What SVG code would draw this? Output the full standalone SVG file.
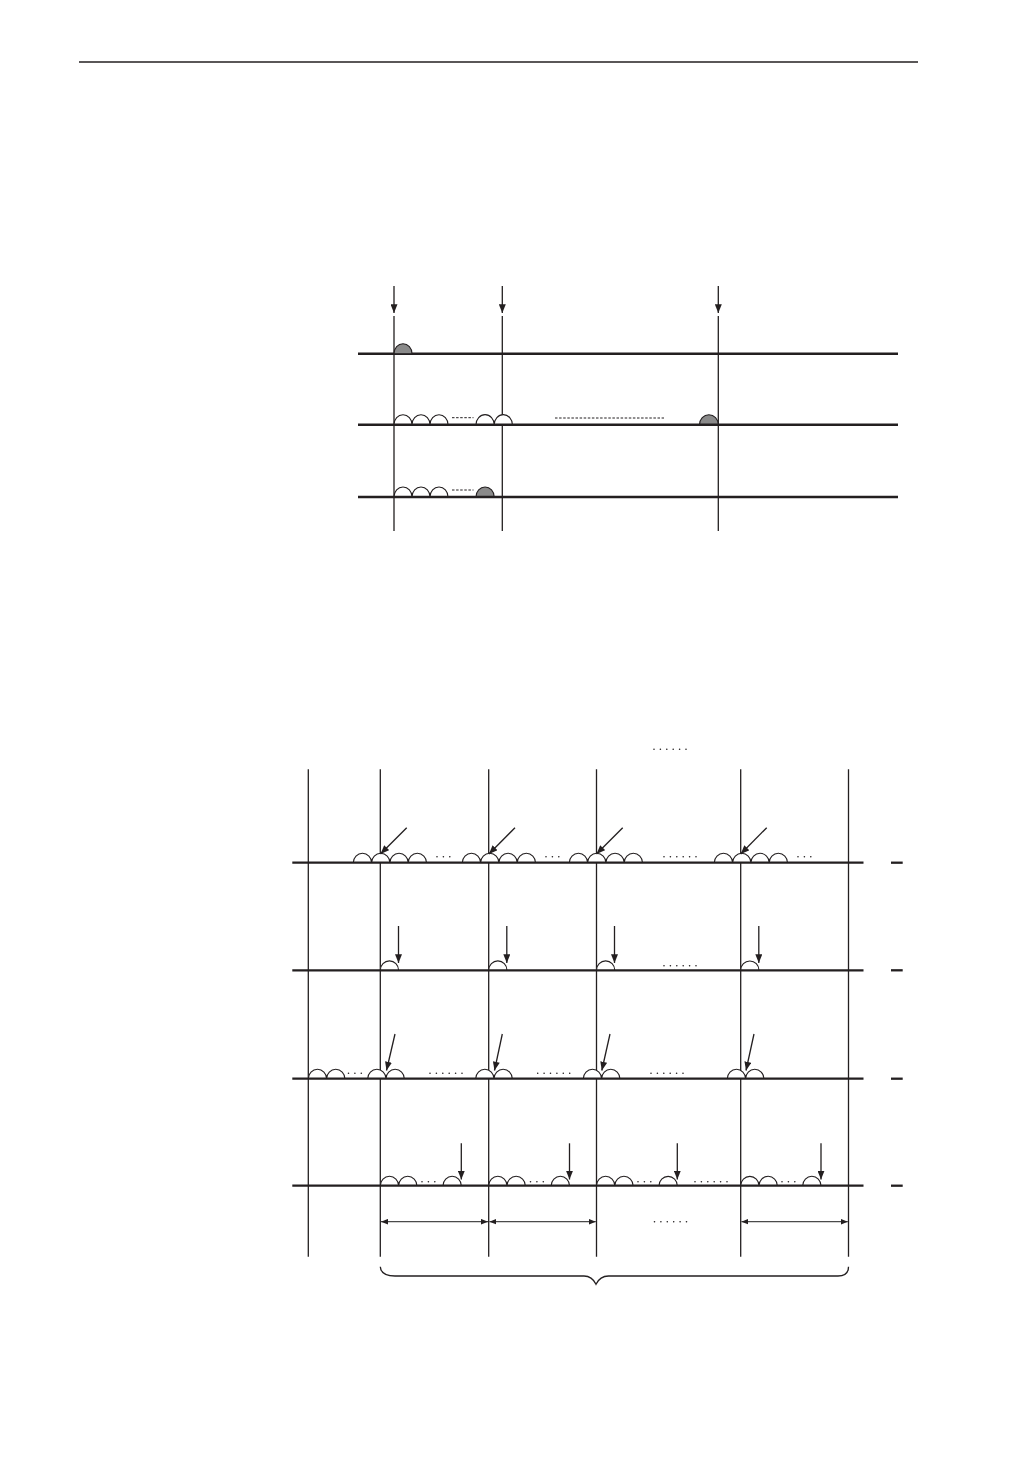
<svg xmlns="http://www.w3.org/2000/svg" width="1032" height="1457" viewBox="0 0 1032 1457">
<style>
.bg{fill:#fff}
.rule{stroke:#231f20;stroke-width:1.6;fill:none}
.vl{stroke:#231f20;stroke-width:1.3;fill:none}
.hl{stroke:#231f20;stroke-width:2.5;fill:none}
.hl2{stroke:#231f20;stroke-width:2.3;fill:none}
.arc{stroke:#231f20;stroke-width:1.1;fill:#fff}
.arcg{stroke:#231f20;stroke-width:1.1;fill:#8a8a8a}
.dash{stroke:#231f20;stroke-width:1;stroke-dasharray:2.5 1.6;fill:none}
.dots{stroke:#231f20;stroke-width:1.6;stroke-linecap:round;stroke-dasharray:0 6.4;fill:none}
.arr{stroke:#231f20;stroke-width:1.3;fill:none;marker-end:url(#ah)}
.dbl{stroke:#4a4a4a;stroke-width:1.3;fill:none;marker-start:url(#ah2);marker-end:url(#ah2)}
</style>
<defs>
<marker id="ah" viewBox="0 0 10 8" refX="10" refY="4" markerWidth="9" markerHeight="7" markerUnits="userSpaceOnUse" orient="auto">
<path d="M0,0 L10,4 L0,8 z" fill="#231f20"/>
</marker>
<marker id="ah2" viewBox="0 0 10 8" refX="10" refY="4" markerWidth="7" markerHeight="6" markerUnits="userSpaceOnUse" orient="auto-start-reverse">
<path d="M0,0 L10,4 L0,8 z" fill="#231f20"/>
</marker>
</defs>
<rect class="bg" x="0" y="0" width="1032" height="1457"/>
<line class="rule" x1="79" y1="62" x2="918" y2="62"/>

<g id="fig1">
  <g id="fig1-verticals">
    <line class="vl" x1="394" y1="316" x2="394" y2="531"/>
    <line class="vl" x1="502.3" y1="316" x2="502.3" y2="531"/>
    <line class="vl" x1="718.3" y1="316" x2="718.3" y2="531"/>
  </g>
  <g id="fig1-arrows">
    <line class="arr" x1="394" y1="286" x2="394" y2="313"/>
    <line class="arr" x1="502.3" y1="286" x2="502.3" y2="313"/>
    <line class="arr" x1="718.3" y1="286" x2="718.3" y2="313"/>
  </g>
  <g id="fig1-row1">
    <line class="hl" x1="358" y1="353.7" x2="898" y2="353.7"/>
    <path class="arcg" d="M394,353.7 A9,10 0 0 1 412,353.7 Z"/>
  </g>
  <g id="fig1-row2">
    <path class="arc" d="M394,424.7 A9,10 0 0 1 412,424.7 A9,10 0 0 1 430,424.7 A9,10 0 0 1 448,424.7"/>
    <line class="dash" x1="452" y1="417.7" x2="473.5" y2="417.7"/>
    <path class="arc" d="M476,424.7 A9,10 0 0 1 494.2,424.7 A9,10 0 0 1 512.4,424.7"/>
    <line class="dash" x1="555" y1="418" x2="664" y2="418"/>
    <path class="arcg" d="M699.5,424.7 A9.4,10 0 0 1 718.3,424.7 Z"/>
    <line class="hl" x1="358" y1="424.7" x2="898" y2="424.7"/>
  </g>
  <g id="fig1-row3">
    <path class="arc" d="M394,497 A9,10 0 0 1 412,497 A9,10 0 0 1 430,497 A9,10 0 0 1 448,497"/>
    <line class="dash" x1="452" y1="490" x2="473.5" y2="490"/>
    <path class="arcg" d="M476,497 A9.1,10 0 0 1 494.2,497 Z"/>
    <line class="hl" x1="358" y1="497" x2="898" y2="497"/>
  </g>
</g>

<g id="fig2">
  <line class="dots" x1="654" y1="749.3" x2="687" y2="749.3"/>
  <g id="fig2-verticals">
    <line class="vl" x1="308.3" y1="769.3" x2="308.3" y2="1256.7"/>
    <line class="vl" x1="380.3" y1="769.3" x2="380.3" y2="1256.7"/>
    <line class="vl" x1="488.7" y1="769.3" x2="488.7" y2="1256.7"/>
    <line class="vl" x1="596.5" y1="769.3" x2="596.5" y2="1256.7"/>
    <line class="vl" x1="740.7" y1="769.3" x2="740.7" y2="1256.7"/>
    <line class="vl" x1="848.5" y1="769.3" x2="848.5" y2="1256.7"/>
  </g>
  <g id="fig2-row1">
    <path class="arc" d="M353.3,862.7 A9.15,9.4 0 0 1 371.6,862.7 A9.15,9.4 0 0 1 389.9,862.7 A9.15,9.4 0 0 1 408.2,862.7 A9.15,9.4 0 0 1 426.5,862.7"/>
    <line class="dots" x1="437" y1="856.7" x2="450.5" y2="856.7"/>
    <path class="arc" d="M462.3,862.7 A9.15,9.4 0 0 1 480.6,862.7 A9.15,9.4 0 0 1 498.9,862.7 A9.15,9.4 0 0 1 517.2,862.7 A9.15,9.4 0 0 1 535.5,862.7"/>
    <line class="dots" x1="546" y1="856.7" x2="559.5" y2="856.7"/>
    <path class="arc" d="M569.3,862.7 A9.15,9.4 0 0 1 587.6,862.7 A9.15,9.4 0 0 1 605.9,862.7 A9.15,9.4 0 0 1 624.2,862.7 A9.15,9.4 0 0 1 642.5,862.7"/>
    <line class="dots" x1="664" y1="856.7" x2="697" y2="856.7"/>
    <path class="arc" d="M714.3,862.7 A9.15,9.4 0 0 1 732.6,862.7 A9.15,9.4 0 0 1 750.9,862.7 A9.15,9.4 0 0 1 769.2,862.7 A9.15,9.4 0 0 1 787.5,862.7"/>
    <line class="dots" x1="798" y1="856.7" x2="811.5" y2="856.7"/>
    <line class="hl2" x1="292.3" y1="862.7" x2="863.5" y2="862.7"/>
    <line class="hl2" x1="891" y1="862.7" x2="902.7" y2="862.7"/>
    <line class="arr" x1="406.7" y1="827.7" x2="380.5" y2="854"/>
    <line class="arr" x1="515" y1="827.7" x2="488.9" y2="854"/>
    <line class="arr" x1="622.7" y1="827.7" x2="596.5" y2="854"/>
    <line class="arr" x1="766.7" y1="827.7" x2="740.7" y2="854"/>
  </g>
  <g id="fig2-row2">
    <path class="arc" d="M380.3,970.3 A9.15,9.4 0 0 1 398.6,970.3"/>
    <path class="arc" d="M488.7,970.3 A9.15,9.4 0 0 1 507,970.3"/>
    <path class="arc" d="M596.5,970.3 A9.15,9.4 0 0 1 614.8,970.3"/>
    <path class="arc" d="M740.7,970.3 A9.15,9.4 0 0 1 759,970.3"/>
    <line class="dots" x1="664" y1="965.7" x2="697" y2="965.7"/>
    <line class="hl2" x1="292.3" y1="970.3" x2="863.5" y2="970.3"/>
    <line class="hl2" x1="891" y1="970.3" x2="902.7" y2="970.3"/>
    <line class="arr" x1="398.5" y1="926" x2="398.5" y2="963"/>
    <line class="arr" x1="506.8" y1="926" x2="506.8" y2="963"/>
    <line class="arr" x1="614.5" y1="926" x2="614.5" y2="963"/>
    <line class="arr" x1="758.8" y1="926" x2="758.8" y2="963"/>
  </g>
  <g id="fig2-row3">
    <path class="arc" d="M308.3,1078.7 A9.15,9.4 0 0 1 326.6,1078.7 A9.15,9.4 0 0 1 344.9,1078.7"/>
    <line class="dots" x1="348.5" y1="1073.3" x2="362" y2="1073.3"/>
    <path class="arc" d="M367.7,1078.7 A9.15,9.4 0 0 1 386,1078.7 A9.15,9.4 0 0 1 404.3,1078.7"/>
    <line class="dots" x1="430" y1="1073.3" x2="463" y2="1073.3"/>
    <path class="arc" d="M475.7,1078.7 A9.15,9.4 0 0 1 494,1078.7 A9.15,9.4 0 0 1 512.3,1078.7"/>
    <line class="dots" x1="537.7" y1="1073.3" x2="570.7" y2="1073.3"/>
    <path class="arc" d="M583.3,1078.7 A9.15,9.4 0 0 1 601.6,1078.7 A9.15,9.4 0 0 1 619.9,1078.7"/>
    <line class="dots" x1="651" y1="1073.3" x2="684" y2="1073.3"/>
    <path class="arc" d="M727.3,1078.7 A9.15,9.4 0 0 1 745.6,1078.7 A9.15,9.4 0 0 1 763.9,1078.7"/>
    <line class="hl2" x1="292.3" y1="1078.7" x2="863.5" y2="1078.7"/>
    <line class="hl2" x1="891" y1="1078.7" x2="902.7" y2="1078.7"/>
    <line class="arr" x1="395" y1="1034" x2="386.5" y2="1070.5"/>
    <line class="arr" x1="502.3" y1="1034" x2="494.5" y2="1070.5"/>
    <line class="arr" x1="610" y1="1034" x2="601.8" y2="1070.5"/>
    <line class="arr" x1="754" y1="1034" x2="746" y2="1070.5"/>
  </g>
  <g id="fig2-row4">
    <path class="arc" d="M380.3,1185.7 A9.15,9.4 0 0 1 398.6,1185.7 A9.15,9.4 0 0 1 416.9,1185.7"/>
    <line class="dots" x1="422" y1="1181.7" x2="435.5" y2="1181.7"/>
    <path class="arc" d="M443,1185.7 A9.15,9.4 0 0 1 461.3,1185.7"/>
    <path class="arc" d="M488.7,1185.7 A9.15,9.4 0 0 1 507,1185.7 A9.15,9.4 0 0 1 525.3,1185.7"/>
    <line class="dots" x1="530.5" y1="1181.7" x2="544" y2="1181.7"/>
    <path class="arc" d="M551.2,1185.7 A9.15,9.4 0 0 1 569.5,1185.7"/>
    <path class="arc" d="M596.5,1185.7 A9.15,9.4 0 0 1 614.8,1185.7 A9.15,9.4 0 0 1 633.1,1185.7"/>
    <line class="dots" x1="638" y1="1181.7" x2="651.5" y2="1181.7"/>
    <path class="arc" d="M659,1185.7 A9.15,9.4 0 0 1 677.3,1185.7"/>
    <line class="dots" x1="695" y1="1181.7" x2="728" y2="1181.7"/>
    <path class="arc" d="M740.7,1185.7 A9.15,9.4 0 0 1 759,1185.7 A9.15,9.4 0 0 1 777.3,1185.7"/>
    <line class="dots" x1="782" y1="1181.7" x2="795.5" y2="1181.7"/>
    <path class="arc" d="M802.7,1185.7 A9.15,9.4 0 0 1 821,1185.7"/>
    <line class="hl2" x1="292.3" y1="1185.7" x2="863.5" y2="1185.7"/>
    <line class="hl2" x1="891" y1="1185.7" x2="902.7" y2="1185.7"/>
    <line class="arr" x1="461.3" y1="1143.3" x2="461.3" y2="1179.5"/>
    <line class="arr" x1="569.5" y1="1143.3" x2="569.5" y2="1179.5"/>
    <line class="arr" x1="677.3" y1="1143.3" x2="677.3" y2="1179.5"/>
    <line class="arr" x1="821" y1="1143.3" x2="821" y2="1179.5"/>
  </g>
  <g id="fig2-spans">
    <line class="dbl" x1="381" y1="1221.7" x2="488" y2="1221.7"/>
    <line class="dbl" x1="489.4" y1="1221.7" x2="595.8" y2="1221.7"/>
    <line class="dots" x1="654.5" y1="1221.7" x2="687.5" y2="1221.7"/>
    <line class="dbl" x1="741.4" y1="1221.7" x2="847.8" y2="1221.7"/>
  </g>
  <path id="fig2-brace" class="vl" d="M380.3,1266.7 Q381,1276 395,1276 L584,1276 Q592,1276 596,1284.3 Q600,1276 608.5,1276 L838,1276 Q848.5,1276 848.5,1266.7"/>
</g>
</svg>
